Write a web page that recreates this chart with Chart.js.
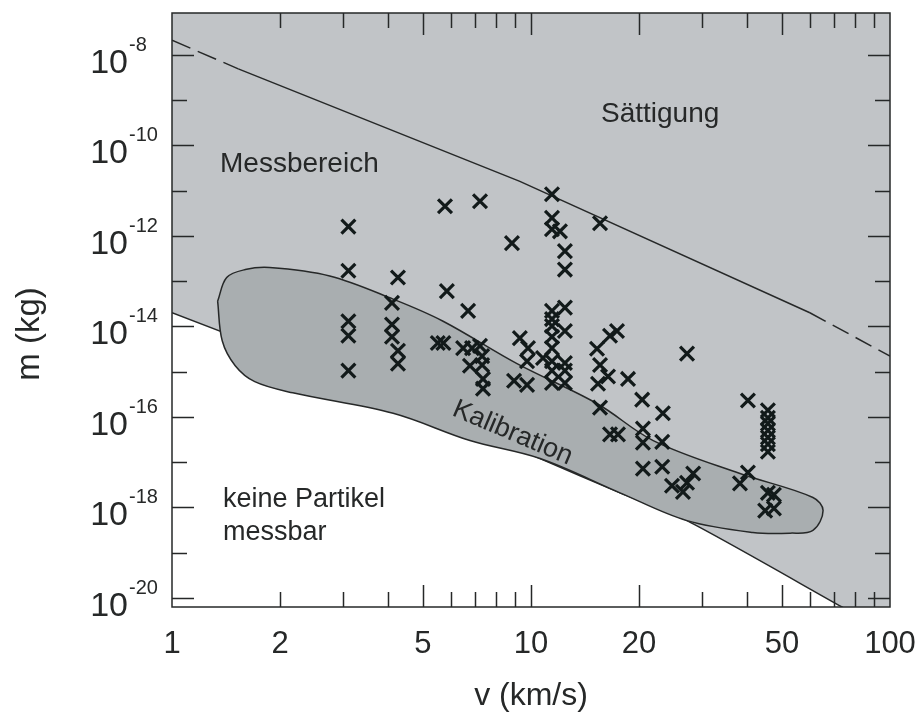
<!DOCTYPE html>
<html lang="de">
<head>
  <meta charset="UTF-8" />
  <title>Messbereich Staubdetektor</title>
  <style>
    html, body { margin: 0; padding: 0; background: #fff; }
    #wrap { width: 919px; height: 717px; }
  </style>
  <script src="https://cdn.jsdelivr.net/npm/chart.js@4.4.1/dist/chart.umd.min.js"></script>
</head>
<body>
  <div id="wrap"><canvas id="chart" width="919" height="717"></canvas></div>

  <script>
    // measured particles: impact speed (km/s) and mass (kg)
    const velocity = [
      3.1, 3.1, 3.1, 3.1, 3.1,
      4.26, 4.1, 4.1, 4.1, 4.26, 4.26,
      5.5, 5.7, 5.83, 5.76, 7.21, 6.68, 8.85,
      6.47, 6.85, 7.21, 7.31, 6.76, 7.31, 7.35, 7.35,
      9.31, 9.81, 9.75, 8.97, 9.75,
      11.44, 11.44, 11.44, 12.04, 12.43, 12.43, 12.43, 11.44, 11.44, 11.44,
      12.43, 11.44, 11.44, 10.8, 11.44, 12.43, 11.44, 12.43, 11.44, 12.43,
      15.57, 17.36, 16.6, 15.27, 15.57, 16.39, 15.37, 18.63, 15.57, 20.4, 23.3, 27.2,
      16.6, 17.47, 20.5, 20.5, 23.2, 20.5, 23.2, 24.7, 26.5, 27.2, 28.3,
      38.2, 40.2, 40.2,
      45.7, 45.7, 45.7, 45.7, 45.7, 45.7, 45.7,
      45.7, 47.5, 44.9, 47.5
    ];
    const mass = [
      1.6e-12, 1.7e-13, 1.3e-14, 6.2e-15, 1.05e-15,
      1.2e-13, 3.3e-14, 1.1e-14, 5.9e-15, 2.9e-15, 1.5e-15,
      4.3e-15, 4.3e-15, 6.0e-14, 4.5e-12, 5.8e-12, 2.2e-14, 6.9e-13,
      3.3e-15, 3.3e-15, 3.7e-15, 2.2e-15, 1.35e-15, 1.4e-15, 6.9e-16, 4.2e-16,
      5.5e-15, 3.3e-15, 1.7e-15, 6.3e-16, 5.1e-16,
      8.3e-12, 2.5e-12, 1.4e-12, 1.26e-12, 4.6e-13, 1.8e-13, 2.6e-14, 2.2e-14, 1.45e-14, 1.02e-14,
      7.9e-15, 5.9e-15, 3.3e-15, 2.0e-15, 1.7e-15, 1.55e-15, 1.05e-15, 1.05e-15, 5.6e-16, 5.6e-16,
      1.9e-12, 7.9e-15, 6.2e-15, 3.2e-15, 1.4e-15, 7.8e-16, 5.4e-16, 6.9e-16, 1.6e-16, 2.4e-16, 1.2e-16, 2.5e-15,
      4.1e-17, 4.1e-17, 5.5e-17, 2.7e-17, 2.8e-17, 7.2e-18, 7.9e-18, 3.0e-18, 2.2e-18, 3.5e-18, 5.6e-18,
      3.4e-18, 5.9e-18, 2.3e-16,
      1.4e-16, 9.5e-17, 7.1e-17, 5.0e-17, 3.5e-17, 2.5e-17, 1.7e-17,
      2.1e-18, 1.9e-18, 8.5e-19, 9.5e-19
    ];

    // saturation limit (dashed outside 1.53 .. 59.8 km/s)
    const saturationV = [1, 1.53, 9.31, 59.8, 100];
    const saturationM = [2.1e-8, 4.9e-9, 1.6e-11, 2.0e-14, 2.2e-15];

    // lower detection limit
    const limitV = [1, 3.03, 6.14, 10.6, 17.7, 27.2, 73.5, 100];
    const limitM = [2.0e-14, 6.9e-16, 8.3e-17, 1.2e-17, 2.1e-18, 5.1e-19, 6.3e-21, 1.6e-21];

    // calibration area outline
    const calibV = [1.34, 1.42, 1.60, 1.87, 2.75, 4.13, 5.69, 9.14, 15.3, 21.9, 38.2, 61.0, 65.1, 61.0, 52.7, 41.5,
                    27.2, 17.7, 10.6, 6.76, 4.13, 2.17, 1.70, 1.50, 1.38, 1.34];
    const calibM = [3.6e-14, 1.2e-13, 1.8e-13, 2.0e-13, 1.3e-13, 4.0e-14, 1.3e-14, 1.5e-15, 1.95e-16, 3.0e-17, 5.6e-18,
                    1.66e-18, 8.5e-19, 3.1e-19, 2.7e-19, 2.8e-19, 5.1e-19, 2.1e-18, 1.2e-17, 3.0e-17, 1.2e-16, 3.4e-16,
                    6.0e-16, 1.35e-15, 4.8e-15, 3.6e-14];

    const yExponents = [-20, -19, -18, -17, -16, -15, -14, -13, -12, -11, -10, -9, -8];
    const xTickValues = [2, 3, 4, 5, 6, 7, 8, 9, 10, 20, 30, 40, 50, 60, 70, 80, 90];
    const xLongTicks = [5, 10, 20, 50];
    const xLabels = [1, 2, 5, 10, 20, 50, 100];

    const INK = '#262828';
    const FONT = '"Liberation Sans", Arial, sans-serif';

    function pts(xs, ys, from, to) {
      const out = [];
      for (let i = from; i <= to; i++) out.push({ x: xs[i], y: ys[i] });
      return out;
    }

    const decorations = {
      id: 'decorations',
      afterDraw(chart) {
        const { ctx, chartArea: a, scales: { x, y } } = chart;
        ctx.save();
        ctx.strokeStyle = INK;
        ctx.lineWidth = 1.5;
        ctx.strokeRect(a.left, a.top, a.right - a.left, a.bottom - a.top);

        // inward tick marks on all four sides
        ctx.beginPath();
        yExponents.forEach(e => {
          const py = Math.round(y.getPixelForValue(Math.pow(10, e))) + 0.5;
          const len = e % 2 === 0 ? 22 : 15;
          ctx.moveTo(a.left, py); ctx.lineTo(a.left + len, py);
          ctx.moveTo(a.right, py); ctx.lineTo(a.right - len, py);
        });
        xTickValues.forEach(v => {
          const px = Math.round(x.getPixelForValue(v)) + 0.5;
          const len = xLongTicks.includes(v) ? 22 : 15;
          ctx.moveTo(px, a.bottom); ctx.lineTo(px, a.bottom - len);
          ctx.moveTo(px, a.top); ctx.lineTo(px, a.top + len);
        });
        ctx.stroke();

        // y labels 10^n
        ctx.fillStyle = INK;
        yExponents.filter(e => e % 2 === 0).forEach(e => {
          const py = y.getPixelForValue(Math.pow(10, e));
          ctx.font = '34px ' + FONT;
          ctx.textAlign = 'right';
          ctx.textBaseline = 'alphabetic';
          ctx.fillText('10', 128, py + 18);
          ctx.font = '20px ' + FONT;
          ctx.textAlign = 'left';
          ctx.fillText(String(e), 129, py - 4);
        });

        // y axis title
        ctx.save();
        ctx.translate(30, 334);
        ctx.rotate(-Math.PI / 2);
        ctx.font = '33px ' + FONT;
        ctx.textAlign = 'center';
        ctx.textBaseline = 'middle';
        ctx.fillText('m (kg)', 0, 0);
        ctx.restore();

        // region labels
        ctx.font = '28px ' + FONT;
        ctx.textAlign = 'left';
        ctx.textBaseline = 'alphabetic';
        ctx.fillText('Sättigung', 601, 122);
        ctx.fillText('Messbereich', 220, 172);
        ctx.font = '27px ' + FONT;
        ctx.fillText('keine Partikel', 223, 507);
        ctx.fillText('messbar', 223, 540);

        ctx.save();
        ctx.translate(451, 415);
        ctx.rotate(23 * Math.PI / 180);
        ctx.font = '27px ' + FONT;
        ctx.fillText('Kalibration', 0, 0);
        ctx.restore();

        ctx.restore();
      }
    };

    new Chart(document.getElementById('chart'), {
      type: 'scatter',
      data: {
        datasets: [
          {
            label: 'Messungen',
            data: velocity.map((v, i) => ({ x: v, y: mass[i] })),
            pointStyle: 'crossRot',
            pointRadius: 9.8,
            borderColor: '#121a1a',
            borderWidth: 3.2,
            order: 0
          },
          {
            label: 'Sättigung',
            data: pts(saturationV, saturationM, 1, 3),
            showLine: true,
            pointRadius: 0,
            borderColor: INK,
            borderWidth: 1.5,
            tension: 0,
            order: 1
          },
          {
            label: 'Sättigung links',
            data: pts(saturationV, saturationM, 0, 1),
            showLine: true,
            pointRadius: 0,
            borderColor: INK,
            borderWidth: 1.5,
            borderDash: [20, 8],
            order: 1
          },
          {
            label: 'Sättigung rechts',
            data: pts(saturationV, saturationM, 3, 4),
            showLine: true,
            pointRadius: 0,
            borderColor: INK,
            borderWidth: 1.5,
            borderDash: [18, 8],
            order: 1
          },
          {
            label: 'Kalibration',
            data: pts(calibV, calibM, 0, calibV.length - 1),
            showLine: true,
            pointRadius: 0,
            borderColor: INK,
            borderWidth: 1.5,
            backgroundColor: '#a9aeb0',
            fill: 'shape',
            tension: 0.35,
            order: 2
          },
          {
            label: 'Nachweisgrenze',
            data: pts(limitV, limitM, 0, limitV.length - 1),
            showLine: true,
            pointRadius: 0,
            borderColor: INK,
            borderWidth: 1.5,
            backgroundColor: '#c1c4c7',
            fill: 'end',
            tension: 0.25,
            order: 3
          }
        ]
      },
      options: {
        responsive: false,
        animation: false,
        layout: { padding: { left: 0, right: 29, top: 11, bottom: 0 } },
        plugins: {
          legend: { display: false },
          tooltip: { enabled: false }
        },
        scales: {
          x: {
            type: 'logarithmic',
            min: 1,
            max: 100,
            grid: { display: false, drawTicks: false },
            border: { display: false },
            ticks: {
              autoSkip: false,
              maxRotation: 0,
              padding: 19,
              color: INK,
              font: { family: FONT, size: 31 },
              callback: v => xLabels.find(l => Math.abs(v - l) / l < 1e-6) ? String(v) : ''
            },
            title: {
              display: true,
              text: 'v (km/s)',
              color: INK,
              font: { family: FONT, size: 32 },
              padding: { top: 0, bottom: 2 }
            },
            afterFit: s => { s.height = 110; s.paddingLeft = 0; s.paddingRight = 0; }
          },
          y: {
            type: 'logarithmic',
            min: 6.3e-21,
            max: 8.4e-8,
            grid: { display: false, drawTicks: false },
            border: { display: false },
            ticks: { display: false },
            afterFit: s => { s.width = 172; s.paddingTop = 0; s.paddingBottom = 0; }
          }
        }
      },
      plugins: [decorations]
    });
  </script>
</body>
</html>
